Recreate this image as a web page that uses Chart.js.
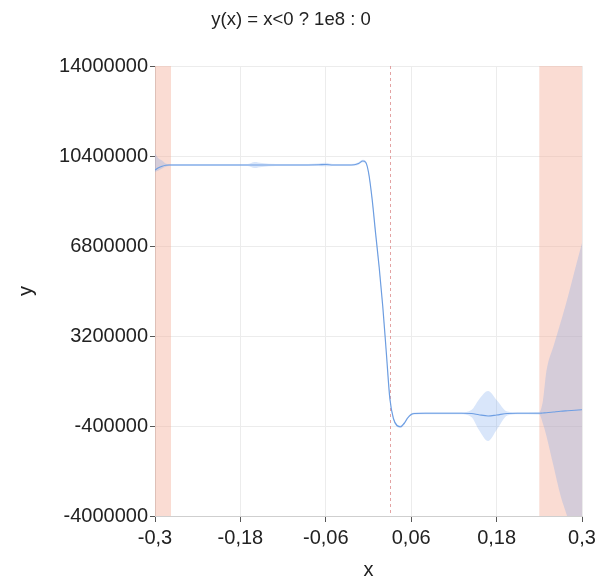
<!DOCTYPE html>
<html>
<head>
<meta charset="utf-8">
<title>y(x) = x<0 ? 1e8 : 0</title>
<script src="https://cdn.jsdelivr.net/npm/chart.js@4.4.1/dist/chart.umd.min.js"></script>
<style>
  html, body { margin: 0; padding: 0; background: #fff; }
  #wrap { width: 606px; height: 582px; }
</style>
</head>
<body>
<div id="wrap"><canvas id="gpChart" width="606" height="582"></canvas></div>
<script>
// sample positions along x
const xs = [
  -0.300, -0.295, -0.290, -0.285, -0.280, -0.250, -0.200, -0.170, -0.160, -0.150,
  -0.130, -0.100, -0.070, -0.060, -0.050, -0.030, -0.020, -0.014, -0.008, -0.004,
   0.000,  0.005,  0.010,  0.015,  0.020,  0.025,  0.030,  0.035,  0.040,  0.045,
   0.050,  0.055,  0.060,  0.065,  0.080,  0.100,  0.130,  0.145,  0.155,  0.168,
   0.180,  0.195,  0.210,  0.240,  0.245,  0.250,  0.260,  0.270,  0.280,  0.290,
   0.300
];
// predicted mean (millions)
const meanM = [
   9.84,  9.93,  9.99, 10.03, 10.04, 10.04, 10.04, 10.04, 10.04, 10.04,
  10.04, 10.04, 10.05, 10.06, 10.04, 10.04, 10.05, 10.10, 10.20, 10.15,
   9.75,  8.70,  7.30,  5.95,  4.40,  2.55,  0.70, -0.10, -0.38, -0.43,
  -0.30, -0.08,  0.06,  0.10,  0.11,  0.11,  0.11,  0.10,  0.05,  0.00,
   0.04,  0.10,  0.11,  0.11,  0.12,  0.13,  0.16,  0.19,  0.21,  0.23,
   0.25
];
// confidence band, upper edge (millions)
const upperM = [
  10.50, 10.30, 10.22, 10.10, 10.08, 10.08, 10.08, 10.08, 10.16, 10.12,
  10.08, 10.08, 10.10, 10.13, 10.08, 10.08, 10.09, 10.15, 10.25, 10.20,
   9.80,  8.76,  7.36,  6.01,  4.46,  2.61,  0.76, -0.05, -0.33, -0.38,
  -0.25, -0.03,  0.10,  0.14,  0.15,  0.15,  0.15,  0.25,  0.65,  1.00,
   0.64,  0.18,  0.15,  0.16,  0.60,  1.80,  2.80,  3.75,  4.75,  5.85,
   6.92
];
// confidence band, lower edge (millions)
const lowerM = [
   9.76,  9.82,  9.90,  9.97, 10.00, 10.00, 10.00, 10.00,  9.92,  9.96,
  10.00, 10.00, 10.00,  9.99, 10.00, 10.00, 10.01, 10.05, 10.15, 10.10,
   9.70,  8.64,  7.24,  5.89,  4.34,  2.49,  0.64, -0.15, -0.43, -0.48,
  -0.35, -0.13,  0.02,  0.06,  0.07,  0.07,  0.07, -0.05, -0.55, -1.00,
  -0.56,  0.02,  0.07,  0.06, -0.30, -0.80, -2.00, -3.20, -4.10, -5.30,
  -6.50
];

// shaded x ranges and marker line
const shadedRanges = [[-0.3, -0.2775], [0.24, 0.3]];
const markerX = 0.03;

const xTickValues = [-0.3, -0.18, -0.06, 0.06, 0.18, 0.3];
const xTickLabels = ['-0,3', '-0,18', '-0,06', '0,06', '0,18', '0,3'];
const yTickValues = [-4000000, -400000, 3200000, 6800000, 10400000, 14000000];
const yTickLabels = ['-4000000', '-400000', '3200000', '6800000', '10400000', '14000000'];

const MILLION = 1e6;
const toPoints = (arr) => xs.map((x, i) => ({ x: x, y: arr[i] * MILLION }));

const FONT = "'Liberation Sans', Arial, Helvetica, sans-serif";

// draws the shaded ranges and the dashed marker behind the datasets
const backdropPlugin = {
  id: 'backdrop',
  beforeDatasetsDraw(chart) {
    const { ctx, chartArea, scales } = chart;
    ctx.save();
    ctx.fillStyle = 'rgba(244, 172, 150, 0.42)';
    shadedRanges.forEach(([a, b]) => {
      const x1 = scales.x.getPixelForValue(a);
      const x2 = scales.x.getPixelForValue(b);
      ctx.fillRect(x1, chartArea.top, x2 - x1, chartArea.bottom - chartArea.top);
    });
    const mx = Math.round(scales.x.getPixelForValue(markerX)) + 0.5;
    ctx.strokeStyle = 'rgba(220, 140, 140, 0.8)';
    ctx.lineWidth = 1;
    ctx.setLineDash([3, 3]);
    ctx.beginPath();
    ctx.moveTo(mx, chartArea.top);
    ctx.lineTo(mx, chartArea.bottom);
    ctx.stroke();
    ctx.restore();
  }
};

new Chart(document.getElementById('gpChart'), {
  type: 'line',
  data: {
    datasets: [
      {
        label: 'upper',
        data: toPoints(upperM),
        borderWidth: 0,
        pointRadius: 0,
        backgroundColor: 'rgba(110, 160, 235, 0.26)',
        fill: '+1',
        cubicInterpolationMode: 'monotone'
      },
      {
        label: 'lower',
        data: toPoints(lowerM),
        borderWidth: 0,
        pointRadius: 0,
        fill: false,
        cubicInterpolationMode: 'monotone'
      },
      {
        label: 'mean',
        data: toPoints(meanM),
        borderColor: '#6e9ee0',
        borderWidth: 1.2,
        pointRadius: 0,
        fill: false,
        cubicInterpolationMode: 'monotone'
      }
    ]
  },
  options: {
    responsive: false,
    animation: false,
    layout: { padding: { left: 0, right: 24, top: 0, bottom: 0 } },
    plugins: {
      legend: { display: false },
      tooltip: { enabled: false },
      title: {
        display: true,
        text: 'y(x) = x<0 ? 1e8 : 0',
        color: '#222',
        font: { family: FONT, size: 18.5, weight: 'normal', lineHeight: 1.2 },
        padding: { top: 9, bottom: 34.8 }
      }
    },
    scales: {
      x: {
        type: 'linear',
        min: -0.3,
        max: 0.3,
        afterBuildTicks: (scale) => { scale.ticks = xTickValues.map(v => ({ value: v })); },
        afterFit: (scale) => { scale.height = 66; },
        ticks: {
          color: '#222',
          font: { family: FONT, size: 20 },
          padding: 4,
          maxRotation: 0,
          callback: (v, i) => xTickLabels[i]
        },
        grid: { color: '#ececec', tickColor: '#555', tickLength: 6 },
        border: { color: '#cfcfcf' },
        title: {
          display: true,
          text: 'x',
          color: '#222',
          font: { family: FONT, size: 20 },
          padding: { top: 0, bottom: 0 }
        }
      },
      y: {
        type: 'linear',
        min: -4000000,
        max: 14000000,
        afterBuildTicks: (scale) => { scale.ticks = yTickValues.map(v => ({ value: v })); },
        afterFit: (scale) => { scale.width = 155; },
        ticks: {
          color: '#222',
          font: { family: FONT, size: 20 },
          padding: 2,
          callback: (v, i) => yTickLabels[i]
        },
        grid: { color: '#ececec', tickColor: '#555', tickLength: 5 },
        border: { color: '#cfcfcf' },
        title: {
          display: true,
          text: 'y',
          color: '#222',
          font: { family: FONT, size: 20 },
          padding: { top: 14, bottom: 0 }
        }
      }
    }
  },
  plugins: [backdropPlugin]
});
</script>
</body>
</html>
